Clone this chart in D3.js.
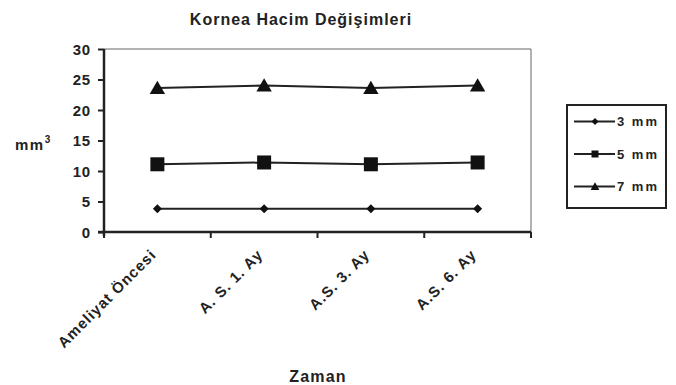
<!DOCTYPE html>
<html><head><meta charset="utf-8">
<script src="https://cdn.jsdelivr.net/npm/d3@7"></script>
<style>body{margin:0;background:#fff}svg{display:block}text{font-family:"Liberation Sans",Arial,sans-serif;font-weight:bold;fill:#222}</style>
</head><body><svg id="c" width="676" height="385"></svg>
<script>
const categories = ["Ameliyat Öncesi", "A. S. 1. Ay", "A.S. 3. Ay", "A.S. 6. Ay"];
const seriesNames = ["3 mm", "5 mm", "7 mm"];
const values3 = [3.8, 3.8, 3.8, 3.8];
const values5 = [11.1, 11.4, 11.1, 11.4];
const values7 = [23.6, 24.0, 23.6, 24.0];
const yTicks = [0, 5, 10, 15, 20, 25, 30];
const markers = ["diamond", "square", "triangle"];
const series = [values3, values5, values7];

const svg = d3.select("#c");
const L = 104, R = 531, T = 49, B = 232;
const x = d3.scaleBand().domain(categories).range([L, R]);
const y = d3.scaleLinear().domain([0, 30]).range([B, T]);

// frame (top/right thin grey)
svg.append("path").attr("d", `M${L},${T}H${R}V${B}`).attr("fill","none").attr("stroke","#666").attr("stroke-width",1);

// Y axis
const ya = svg.append("g").attr("transform",`translate(${L},0)`).call(d3.axisLeft(y).tickValues(yTicks).tickSize(6).tickFormat(d3.format("d")));
ya.select(".domain").attr("stroke","#222").attr("stroke-width",2.5).attr("d",`M0,${T}V${B+4}`);
ya.selectAll(".tick line").attr("stroke","#222").attr("stroke-width",2).attr("x1",-6).attr("x2",0);
ya.selectAll(".tick text").attr("x",-13).attr("dy","0.36em").style("font-size","15px").style("letter-spacing","0.8px").style("font-family","Liberation Sans, Arial").style("font-weight","bold").attr("fill","#222");

// X axis
const xa = svg.append("g").attr("transform",`translate(0,${B})`).call(d3.axisBottom(x).tickSize(6).tickFormat(""));
xa.select(".domain").attr("stroke","#222").attr("stroke-width",2.5).attr("d",`M${L-6},0H${R}`);
xa.selectAll(".tick line").remove();
const bounds = d3.range(1, categories.length+1).map(i => L + i * x.step());
xa.selectAll(".bt").data(bounds).enter().append("line").attr("x1",d=>d).attr("x2",d=>d).attr("y1",0).attr("y2",6).attr("stroke","#222").attr("stroke-width",2);
xa.append("line").attr("x1",L).attr("x2",L).attr("y1",0).attr("y2",6).attr("stroke","#222").attr("stroke-width",2);

// x labels rotated
svg.selectAll(".xl").data(categories).enter().append("text")
  .attr("transform", d => `translate(${x(d)+x.bandwidth()/2-4},${B+20}) rotate(-45)`)
  .attr("text-anchor","end").attr("dy","0.35em").style("font-size","15px").style("letter-spacing","1px").text(d=>d);

// lines
const line = d3.line().x((d,i)=>x(categories[i])+x.bandwidth()/2).y(d=>y(d));
function marker(g, type, s) {
  if (type==="diamond") g.append("path").attr("d",`M0,${-s}L${s},0L0,${s}L${-s},0Z`);
  else if (type==="square") g.append("rect").attr("x",-s).attr("y",-s).attr("width",2*s).attr("height",2*s);
  else g.append("path").attr("d",`M0,${-s*1.05}L${s*1.1},${s*0.85}L${-s*1.1},${s*0.85}Z`);
}
const sizes = [4.5, 7, 7];
series.forEach((vals, si) => {
  svg.append("path").datum(vals).attr("d", line).attr("fill","none").attr("stroke","#222").attr("stroke-width",2);
  vals.forEach((v,i) => {
    const g = svg.append("g").attr("transform",`translate(${x(categories[i])+x.bandwidth()/2},${y(v)})`).attr("fill","#111");
    marker(g, markers[si], sizes[si]);
  });
});

// title
svg.append("text").attr("x",301).attr("y",25).attr("text-anchor","middle").style("font-size","16px").style("letter-spacing","1px").text("Kornea Hacim Değişimleri");
// y label
const yl = svg.append("text").attr("x",15).attr("y",150).style("font-size","15px").style("letter-spacing","1.5px");
yl.append("tspan").text("mm");
yl.append("tspan").attr("dy",-7).style("font-size","10px").text("3");
// x title
svg.append("text").attr("x",318).attr("y",382).attr("text-anchor","middle").style("font-size","16px").style("letter-spacing","1.2px").text("Zaman");

// legend
svg.append("rect").attr("x",567).attr("y",105).attr("width",99).attr("height",103).attr("fill","#fff").attr("stroke","#222").attr("stroke-width",2);
seriesNames.forEach((n,i) => {
  const ly = 121.5 + i*32.5;
  svg.append("line").attr("x1",574).attr("x2",615).attr("y1",ly).attr("y2",ly).attr("stroke","#222").attr("stroke-width",2);
  const g = svg.append("g").attr("transform",`translate(595,${ly})`).attr("fill","#111");
  marker(g, markers[i], [3.5,3.5,4][i]);
  svg.append("text").attr("x",617).attr("y",ly).attr("dy","0.36em").style("font-size","13px").style("letter-spacing","2px").text(n);
});
</script></body></html>
